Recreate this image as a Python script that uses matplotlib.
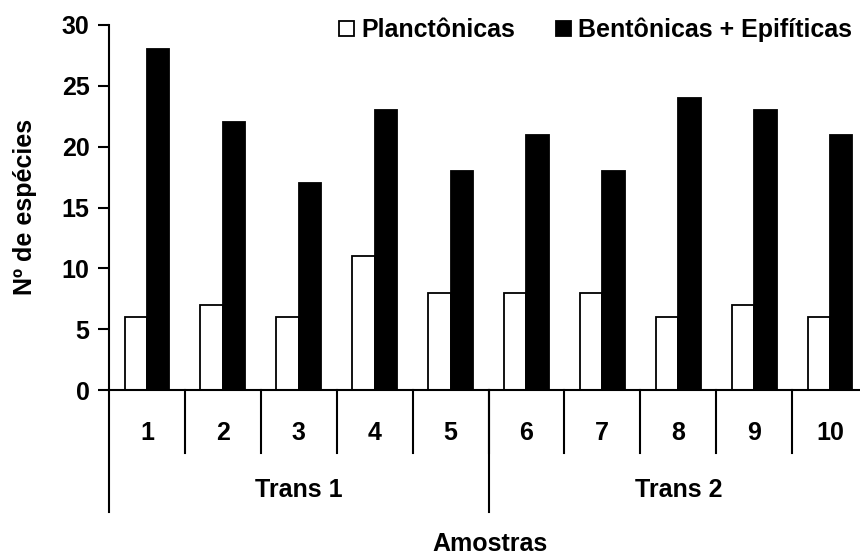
import matplotlib
matplotlib.use("Agg")
import matplotlib.pyplot as plt
from matplotlib.patches import Patch
import numpy as np

plt.rcParams['font.family'] = ['Liberation Sans', 'DejaVu Sans']
plt.rcParams['font.weight'] = 'bold'

samples = ['1', '2', '3', '4', '5', '6', '7', '8', '9', '10']
planctonicas = [6, 7, 6, 11, 8, 8, 8, 6, 7, 6]
bentonicas = [28, 22, 17, 23, 18, 21, 18, 24, 23, 21]
groups = ['Trans 1', 'Trans 2']
group_sizes = [5, 5]
yticks = [0, 5, 10, 15, 20, 25, 30]

W, H = 860, 556
FS = 18
fig = plt.figure(figsize=(W / 100, H / 100), dpi=100)
ax = fig.add_axes([109 / W, (H - 390) / H, 759 / W, 365 / H])

x = np.arange(len(samples))
bw = 0.295
ax.bar(x - bw / 2, planctonicas, bw, color='white', edgecolor='black', linewidth=1.3,
       label='Planctônicas')
ax.bar(x + bw / 2, bentonicas, bw, color='black', edgecolor='black', linewidth=1.3,
       label='Bentônicas + Epifíticas')

ax.set_xlim(-0.5, len(samples) - 0.5)
ax.set_ylim(0, 30)
ax.set_yticks(yticks)
ax.tick_params(axis='y', length=8, width=1.5, labelsize=FS, pad=6)
ax.set_xticks([])
for s in ['top', 'right']:
    ax.spines[s].set_visible(False)
for s in ['left', 'bottom']:
    ax.spines[s].set_linewidth(1.5)

tr = ax.get_xaxis_transform()
# category separators
for i in range(1, len(samples)):
    ax.plot([i - 0.5, i - 0.5], [0, -0.172], color='black', lw=1.5,
            transform=tr, clip_on=False)
# group separators
b = -0.5
bounds = [b]
for n in group_sizes:
    b += n
    bounds.append(b)
for bb in bounds:
    ax.plot([bb, bb], [0, -0.333], color='black', lw=1.5, transform=tr, clip_on=False)
# category labels
for i, s in enumerate(samples):
    ax.text(i, -0.118, s, transform=tr, ha='center', va='center', fontsize=FS,
            fontweight='bold', clip_on=False)
# group labels
for g, lo, hi in zip(groups, bounds[:-1], bounds[1:]):
    ax.text((lo + hi) / 2, -0.275, g, transform=tr, ha='center', va='center',
            fontsize=FS, fontweight='bold', clip_on=False)

fig.text(490 / W, 1 - 544 / H, 'Amostras', ha='center', va='center', fontsize=FS,
         fontweight='bold')
fig.text(25 / W, 1 - 207 / H, 'Nº de espécies', ha='center', va='center', rotation=90,
         fontsize=FS, fontweight='bold')

handles = [Patch(facecolor='white', edgecolor='black', linewidth=1.3),
           Patch(facecolor='black', edgecolor='black', linewidth=1.3)]
leg = fig.legend(handles, ['Planctônicas', 'Bentônicas + Epifíticas'],
                 loc='center right', bbox_to_anchor=(852 / W, 1 - 30 / H), ncol=2,
                 frameon=False, fontsize=FS, handlelength=0.6, handleheight=0.6,
                 handletextpad=0.3, columnspacing=1.6, borderaxespad=0,
                 borderpad=0)
for t in leg.get_texts():
    t.set_fontweight('bold')

fig.savefig('out.png', dpi=100, facecolor='white')
